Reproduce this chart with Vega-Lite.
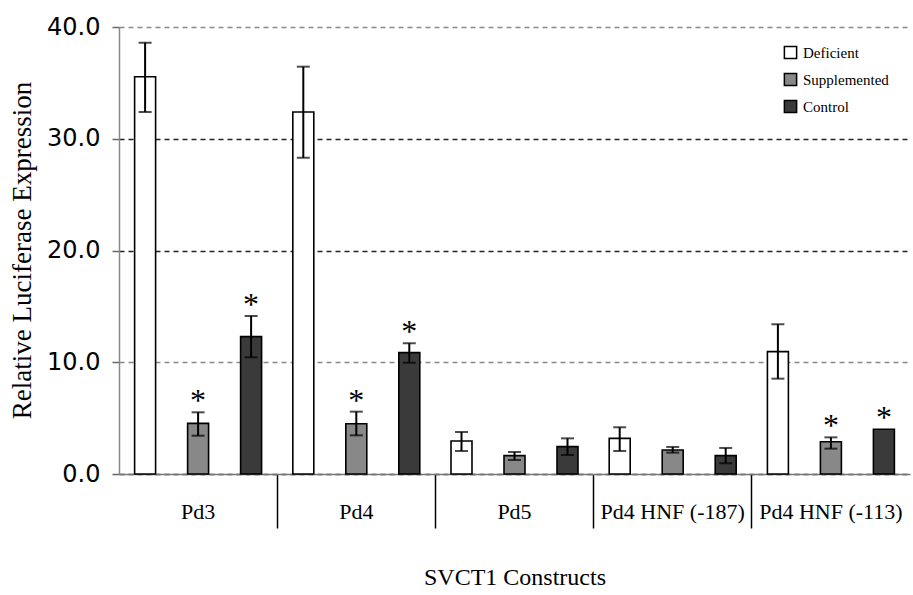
{
  "$schema": "https://vega.github.io/schema/vega-lite/v6.json",
  "width": 791,
  "height": 447,
  "autosize": {"type": "none"},
  "padding": {"left": 119, "top": 27, "right": 3, "bottom": 121},
  "background": "white",
  "config": {"view": {"stroke": null}},
  "data": {
    "values": [
      {"construct": "Pd3", "series": "Deficient", "value": 35.55, "lo": 32.4, "hi": 38.6, "sig": ""},
      {"construct": "Pd3", "series": "Supplemented", "value": 4.53, "lo": 3.43, "hi": 5.52, "sig": "*"},
      {"construct": "Pd3", "series": "Control", "value": 12.29, "lo": 10.44, "hi": 14.14, "sig": "*"},
      {"construct": "Pd4", "series": "Deficient", "value": 32.4, "lo": 28.3, "hi": 36.45, "sig": ""},
      {"construct": "Pd4", "series": "Supplemented", "value": 4.5, "lo": 3.46, "hi": 5.58, "sig": "*"},
      {"construct": "Pd4", "series": "Control", "value": 10.86, "lo": 9.96, "hi": 11.7, "sig": "*"},
      {"construct": "Pd5", "series": "Deficient", "value": 2.95, "lo": 2.06, "hi": 3.76, "sig": ""},
      {"construct": "Pd5", "series": "Supplemented", "value": 1.64, "lo": 1.25, "hi": 1.97, "sig": ""},
      {"construct": "Pd5", "series": "Control", "value": 2.45, "lo": 1.7, "hi": 3.19, "sig": ""},
      {"construct": "Pd4 HNF (-187)", "series": "Deficient", "value": 3.19, "lo": 2.06, "hi": 4.18, "sig": ""},
      {"construct": "Pd4 HNF (-187)", "series": "Supplemented", "value": 2.15, "lo": 1.91, "hi": 2.42, "sig": ""},
      {"construct": "Pd4 HNF (-187)", "series": "Control", "value": 1.64, "lo": 0.96, "hi": 2.33, "sig": ""},
      {"construct": "Pd4 HNF (-113)", "series": "Deficient", "value": 10.95, "lo": 8.53, "hi": 13.4, "sig": ""},
      {"construct": "Pd4 HNF (-113)", "series": "Supplemented", "value": 2.89, "lo": 2.27, "hi": 3.28, "sig": "*"},
      {"construct": "Pd4 HNF (-113)", "series": "Control", "value": 4.0, "lo": 4.0, "hi": 4.0, "sig": "*"}
    ]
  },
  "encoding": {
    "x": {
      "field": "construct",
      "type": "nominal",
      "sort": ["Pd3", "Pd4", "Pd5", "Pd4 HNF (-187)", "Pd4 HNF (-113)"],
      "scale": {"paddingInner": 0, "paddingOuter": 0},
      "axis": {
        "title": "SVCT1 Constructs",
        "titleFont": "Liberation Serif",
        "titleFontSize": 24,
        "titleFontWeight": "normal",
        "titleColor": "black",
        "titleY": 110,
        "titleBaseline": "alphabetic",
        "labelFont": "Liberation Serif",
        "labelFontSize": 22,
        "labelColor": "black",
        "labelAngle": 0,
        "labelPadding": -27,
        "bandPosition": 0,
        "tickSize": 54,
        "tickWidth": 1.5,
        "tickColor": {"condition": {"test": "datum.value == 'Pd3'", "value": "transparent"}, "value": "black"},
        "domainColor": "#777777",
        "domainWidth": 1.5,
        "grid": false
      }
    },
    "xOffset": {
      "field": "series",
      "type": "nominal",
      "sort": ["Deficient", "Supplemented", "Control"],
      "scale": {"paddingInner": 0.604, "paddingOuter": 0.2945}
    }
  },
  "layer": [
    {
      "mark": {"type": "bar", "stroke": "black", "strokeWidth": 1.6},
      "encoding": {
        "y": {
          "field": "value",
          "type": "quantitative",
          "scale": {"domain": [0, 40], "nice": false},
          "axis": {
            "title": "Relative Luciferase Expression",
            "titleFont": "Liberation Serif",
            "titleFontSize": 27,
            "titleFontWeight": "normal",
            "titleColor": "black",
            "titleX": -89,
            "titleY": 223,
            "titleBaseline": "alphabetic",
            "titleAngle": -90,
            "values": [0, 10, 20, 30, 40],
            "format": ".1f",
            "labelFont": "DejaVu Sans",
            "labelFontSize": 24,
            "labelColor": "black",
            "labelPadding": 12,
            "tickSize": 7,
            "tickColor": "#666666",
            "tickWidth": 1.5,
            "domainColor": "#888888",
            "domainWidth": 1.5,
            "grid": true,
            "gridDash": [5, 4],
            "gridWidth": 1.5,
            "gridColor": {"condition": {"test": "datum.value == 10 || datum.value == 40", "value": "#888888"}, "value": "#222222"}
          }
        },
        "color": {
          "field": "series",
          "type": "nominal",
          "sort": ["Deficient", "Supplemented", "Control"],
          "scale": {"domain": ["Deficient", "Supplemented", "Control"], "range": ["#ffffff", "#888888", "#3a3a3a"]},
          "legend": {
            "title": null,
            "orient": "none",
            "legendX": 664,
            "legendY": 18,
            "padding": 0,
            "symbolType": "square",
            "symbolSize": 150,
            "symbolStrokeColor": "black",
            "symbolStrokeWidth": 1.5,
            "labelFont": "Liberation Serif",
            "labelFontSize": 15,
            "labelColor": "black",
            "labelOffset": 5,
            "rowPadding": 8
          }
        }
      }
    },
    {
      "transform": [{"filter": "datum.hi > datum.value"}],
      "mark": {"type": "rule", "color": "black", "strokeWidth": 2},
      "encoding": {
        "y": {"field": "lo", "type": "quantitative"},
        "y2": {"field": "hi"}
      }
    },
    {
      "transform": [{"filter": "datum.hi > datum.value"}],
      "mark": {"type": "tick", "color": "black", "thickness": 2, "size": 13, "orient": "horizontal"},
      "encoding": {"y": {"field": "hi", "type": "quantitative"}}
    },
    {
      "transform": [{"filter": "datum.hi > datum.value"}],
      "mark": {"type": "tick", "color": "black", "thickness": 2, "size": 13, "orient": "horizontal"},
      "encoding": {"y": {"field": "lo", "type": "quantitative"}}
    },
    {
      "transform": [{"filter": "datum.sig == '*'"}],
      "mark": {"type": "text", "font": "Liberation Serif", "fontSize": 32, "baseline": "alphabetic", "dy": -1, "color": "black"},
      "encoding": {
        "y": {"field": "hi", "type": "quantitative"},
        "text": {"field": "sig"}
      }
    }
  ]
}
